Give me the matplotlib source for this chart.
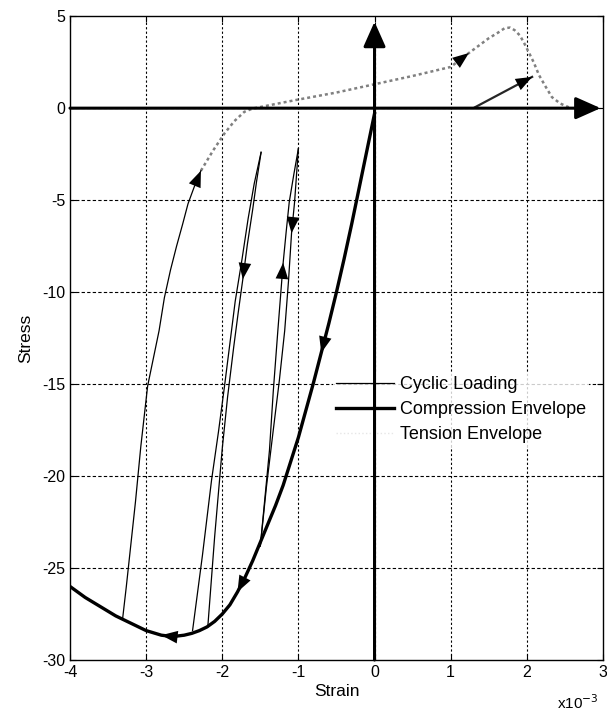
import numpy as np
import matplotlib
matplotlib.use("Agg")
import matplotlib.pyplot as plt
from matplotlib.lines import Line2D

plt.rcParams['font.family'] = ['Liberation Sans', 'DejaVu Sans']
plt.rcParams['axes.unicode_minus'] = False

# strain values in 1e-3, stress values
env_x = [0.0, -0.1, -0.2, -0.3, -0.4, -0.5, -0.6, -0.7, -0.8, -0.9, -1.0, -1.1, -1.2, -1.3,
         -1.4, -1.5, -1.6, -1.7, -1.8, -1.9, -2.0, -2.1, -2.2, -2.3, -2.4, -2.5, -2.6, -2.7,
         -2.8, -3.0, -3.2, -3.4, -3.6, -3.8, -4.0]
env_y = [-0.3, -2.3, -4.3, -6.3, -8.2, -10.0, -11.7, -13.3, -14.9, -16.4, -17.9, -19.2, -20.5, -21.6,
         -22.6, -23.6, -24.6, -25.5, -26.3, -27.0, -27.5, -27.9, -28.2, -28.4, -28.55, -28.65, -28.7, -28.7,
         -28.65, -28.4, -28.0, -27.6, -27.1, -26.6, -26.0]

# cyclic loading branches
outer_x = [-3.31, -3.26, -3.2, -3.14, -3.07, -2.98, -2.9, -2.83, -2.76, -2.68, -2.6, -2.52, -2.45, -2.37, -2.28]
outer_y = [-27.8, -26.0, -23.7, -21.4, -18.4, -15.1, -13.5, -12.1, -10.3, -8.8, -7.5, -6.3, -5.2, -4.3, -3.4]

loop2_up_x = [-2.39, -2.26, -2.14, -2.05, -1.97, -1.9, -1.83, -1.74, -1.66, -1.58, -1.49]
loop2_up_y = [-28.4, -24.3, -20.2, -17.6, -15.1, -12.8, -10.5, -8.2, -6.0, -4.1, -2.4]
loop2_dn_x = [-1.49, -1.55, -1.6, -1.67, -1.73, -1.79, -1.85, -1.93, -2.0, -2.1, -2.19]
loop2_dn_y = [-2.4, -4.0, -5.5, -7.4, -9.3, -11.1, -13.0, -15.7, -18.5, -23.3, -28.2]

loop1_up_x = [-1.5, -1.44, -1.38, -1.33, -1.27, -1.2, -1.16, -1.12, -1.06, -1.0]
loop1_up_y = [-23.8, -21.2, -18.6, -15.4, -12.1, -8.4, -6.7, -5.1, -3.6, -2.2]
loop1_dn_x = [-1.0, -1.05, -1.09, -1.13, -1.18, -1.25, -1.33, -1.42, -1.5]
loop1_dn_y = [-2.2, -5.1, -6.8, -9.4, -12.1, -14.8, -17.5, -20.6, -23.8]

reload_t_x = [1.32, 2.07]
reload_t_y = [0.05, 1.7]

# tension envelope
ten_x = [-2.28, -2.12, -1.97, -1.84, -1.71, -1.6, -1.49, -1.05, -0.5, 0.0, 0.5, 1.0, 1.24, 1.5, 1.62,
         1.71, 1.78, 1.84, 1.91, 1.97, 2.03, 2.09, 2.16, 2.25, 2.33, 2.44, 2.55]
ten_y = [-3.4, -2.3, -1.37, -0.7, -0.2, -0.02, 0.07, 0.43, 0.85, 1.3, 1.75, 2.24, 3.0, 3.8, 4.1,
         4.35, 4.38, 4.24, 3.95, 3.5, 3.0, 2.5, 1.8, 1.15, 0.6, 0.25, 0.05]

xticks = [-4, -3, -2, -1, 0, 1, 2, 3]
yticks = [-30, -25, -20, -15, -10, -5, 0, 5]

fig = plt.figure(figsize=(6.07, 7.13), dpi=100)
ax = fig.add_axes([0.1153, 0.0743, 0.878, 0.903])

ax.set_xlim(xticks[0], xticks[-1])
ax.set_ylim(yticks[0], yticks[-1])
ax.set_xticks(xticks)
ax.set_yticks(yticks)
ax.tick_params(direction='in', length=4, top=True, right=True, labelsize=11.5)
for s in ax.spines.values():
    s.set_linewidth(1.0)

# grid
for xv in xticks[1:-1]:
    ax.axvline(xv, color='k', lw=0.8, ls=(0, (2, 2)), zorder=1)
for yv in yticks[1:-1]:
    ax.axhline(yv, color='k', lw=0.8, ls=(0, (3, 2)), zorder=1)

# tension envelope
ax.plot(ten_x, ten_y, color='0.5', lw=1.8, ls=(0, (1.2, 1.2)), zorder=2)

cyc_kw = dict(color='k', lw=0.9, zorder=3)
ax.plot(outer_x, outer_y, **cyc_kw)
ax.plot(loop2_up_x, loop2_up_y, **cyc_kw)
ax.plot(loop2_dn_x, loop2_dn_y, **cyc_kw)
ax.plot(loop1_up_x, loop1_up_y, **cyc_kw)
ax.plot(loop1_dn_x, loop1_dn_y, **cyc_kw)
ax.plot(reload_t_x, reload_t_y, color='0.15', lw=1.6, zorder=3)

ax.plot(env_x, env_y, color='k', lw=2.4, zorder=4)


def head(xs, ys, i, scale=13):
    ax.annotate('', xy=(xs[i], ys[i]), xytext=(xs[i - 1], ys[i - 1]),
                arrowprops=dict(arrowstyle='-|>,head_length=0.9,head_width=0.35',
                                lw=0, color='k', shrinkA=0, shrinkB=0,
                                mutation_scale=scale), zorder=5)


head(env_x, env_y, 7)
head(env_x, env_y, 18)
head(env_x, env_y, 28)
head(outer_x, outer_y, 14)
head(loop2_dn_x, loop2_dn_y, 4)
head(loop1_up_x, loop1_up_y, 5)
head(loop1_dn_x, loop1_dn_y, 2)
head(ten_x, ten_y, 12)
head(reload_t_x, reload_t_y, 1)

# legend
handles = [Line2D([], [], color='k', lw=0.9),
           Line2D([], [], color='k', lw=2.4),
           Line2D([], [], color='0.9', lw=1.0, ls=':')]
leg = ax.legend(handles, ['Cyclic Loading', 'Compression Envelope', 'Tension Envelope'],
                loc='upper left', bbox_to_anchor=(0.493, 0.447), borderaxespad=0,
                fontsize=13, handlelength=3.2, handletextpad=0.3, labelspacing=0.45,
                borderpad=0.2, frameon=True, fancybox=False)
leg.get_frame().set_facecolor('white')
leg.get_frame().set_edgecolor('none')
leg.set_zorder(5)

# thick axis arrows through the origin
x0, x1 = ax.get_xlim()
y0, y1 = ax.get_ylim()
arr = dict(arrowstyle='-|>,head_length=0.9,head_width=0.4', lw=2.2, color='k',
           shrinkA=0, shrinkB=0, mutation_scale=17)
ax.annotate('', xy=(x1 - 0.03, 0), xytext=(x0, 0), arrowprops=arr, zorder=7)
ax.annotate('', xy=(0, y1 - 0.3), xytext=(0, y0), arrowprops=arr, zorder=7)

ax.set_xlabel('Strain', fontsize=12.5, labelpad=3)
ax.set_ylabel('Stress', fontsize=12.5, labelpad=6)
fig.text(0.918, 0.002, r'x10$^{-3}$', fontsize=11, va='bottom', ha='left')

fig.savefig('out.png', dpi=100)
